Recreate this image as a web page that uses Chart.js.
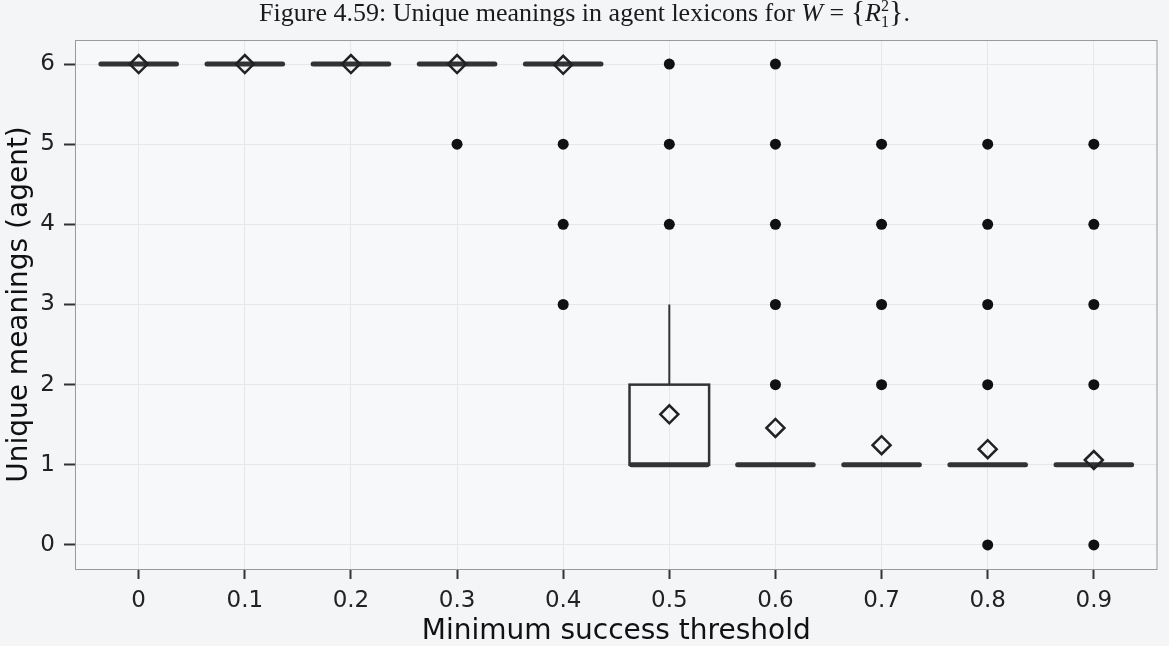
<!DOCTYPE html>
<html>
<head>
<meta charset="utf-8">
<script src="https://cdn.jsdelivr.net/npm/chart.js@4.4.1/dist/chart.umd.min.js"></script>
<style>
    html, body { margin: 0; padding: 0; background: #f4f5f7; }
    #wrap { position: relative; width: 1169px; height: 646px; }
    #fig-title {
        position: absolute; left: 0; top: -4px; width: 1169px; text-align: center;
        font-family: "Liberation Serif", "DejaVu Serif", serif; font-size: 26px; line-height: 30px; color: #1a1a1a;
    }
    #fig-title .br { font-size: 30px; }
    #fig-title sub, #fig-title sup { font-size: 16px; line-height: 0; }
    canvas { position: absolute; left: 0; top: 0; }
</style>
</head>
<body>
<div id="wrap">
    <canvas id="boxChart" width="1169" height="646"></canvas>
    <div id="fig-title">Figure 4.59: Unique meanings in agent lexicons for <i>W</i> = <span class="br">{</span><i>R</i><sup>2</sup><sub style="margin-left:-8px">1</sub><span class="br">}</span>.</div>
</div>
<script>
// categories and box statistics
const categories = ['0', '0.1', '0.2', '0.3', '0.4', '0.5', '0.6', '0.7', '0.8', '0.9'];
const lowerWhisker = [6, 6, 6, 6, 6, 1, 1, 1, 1, 1];
const lowerHinge = [6, 6, 6, 6, 6, 1, 1, 1, 1, 1];
const medians = [6, 6, 6, 6, 6, 1, 1, 1, 1, 1];
const upperHinge = [6, 6, 6, 6, 6, 2, 1, 1, 1, 1];
const upperWhisker = [6, 6, 6, 6, 6, 3, 1, 1, 1, 1];
const means = [6, 6, 6, 6, 5.99, 1.63, 1.46, 1.245, 1.195, 1.06];
const outliers = [[], [], [], [5], [3, 4, 5], [4, 5, 6], [2, 3, 4, 5, 6], [2, 3, 4, 5], [0, 2, 3, 4, 5], [0, 2, 3, 4, 5]];
const yTicks = [0, 1, 2, 3, 4, 5, 6];

const BOX_WIDTH = 0.75;
const FONT = '"DejaVu Sans", sans-serif';

const outlierPoints = [];
outliers.forEach((vals, i) => vals.forEach(v => outlierPoints.push({ x: i, y: v })));
const meanPoints = means.map((m, i) => ({ x: i, y: m }));

// draws panel background, boxes/whiskers/medians and panel border
const boxPlugin = {
    id: 'boxes',
    beforeDraw(chart) {
        const { ctx, chartArea: a } = chart;
        ctx.save();
        ctx.fillStyle = '#f7f8fa';
        ctx.fillRect(a.left, a.top, a.right - a.left, a.bottom - a.top);
        ctx.restore();
    },
    beforeDatasetsDraw(chart) {
        const { ctx, scales: { x, y } } = chart;
        ctx.save();
        ctx.strokeStyle = '#333';
        categories.forEach((c, i) => {
            const x0 = x.getPixelForValue(i - BOX_WIDTH / 2);
            const x1 = x.getPixelForValue(i + BOX_WIDTH / 2);
            const xc = x.getPixelForValue(i);
            // whiskers
            ctx.lineWidth = 2;
            ctx.beginPath();
            if (upperWhisker[i] > upperHinge[i]) {
                ctx.moveTo(xc, y.getPixelForValue(upperHinge[i]));
                ctx.lineTo(xc, y.getPixelForValue(upperWhisker[i]));
            }
            if (lowerWhisker[i] < lowerHinge[i]) {
                ctx.moveTo(xc, y.getPixelForValue(lowerHinge[i]));
                ctx.lineTo(xc, y.getPixelForValue(lowerWhisker[i]));
            }
            ctx.stroke();
            // box
            if (upperHinge[i] > lowerHinge[i]) {
                const yt = y.getPixelForValue(upperHinge[i]);
                const yb = y.getPixelForValue(lowerHinge[i]);
                ctx.lineWidth = 2.5;
                ctx.strokeRect(x0, yt, x1 - x0, yb - yt);
            }
            // median
            ctx.lineWidth = 5;
            ctx.lineCap = 'round';
            ctx.beginPath();
            const ym = y.getPixelForValue(medians[i]);
            ctx.moveTo(x0 + 2, ym);
            ctx.lineTo(x1 - 2, ym);
            ctx.stroke();
            ctx.lineCap = 'butt';
        });
        ctx.restore();
    },
    afterDraw(chart) {
        const { ctx, chartArea: a } = chart;
        ctx.save();
        ctx.strokeStyle = '#9a9a9a';
        ctx.lineWidth = 1;
        ctx.strokeRect(a.left + 0.5, a.top + 0.5, a.right - a.left - 1, a.bottom - a.top);
        ctx.restore();
    }
};

const ctx = document.getElementById('boxChart').getContext('2d');
const boxChart = new Chart(ctx, {
    type: 'scatter',
    data: {
        datasets: [{
            label: 'mean',
            data: meanPoints,
            pointStyle: 'rectRot',
            pointRadius: 9,
            pointBorderWidth: 2.5,
            pointBorderColor: '#222',
            pointBackgroundColor: 'rgba(0,0,0,0)'
        }, {
            label: 'outliers',
            data: outlierPoints,
            pointStyle: 'circle',
            pointRadius: 5.5,
            pointBorderWidth: 0,
            pointBackgroundColor: '#111'
        }]
    },
    options: {
        responsive: false,
        animation: false,
        layout: {
            padding: { top: 40, right: 7, left: 0, bottom: 0 }
        },
        plugins: {
            legend: { display: false },
            tooltip: { enabled: false }
        },
        scales: {
            x: {
                type: 'linear',
                min: -0.6,
                max: 9.6,
                afterBuildTicks: function (scale) {
                    scale.ticks = categories.map((c, i) => ({ value: i }));
                },
                afterFit: function (scale) {
                    scale.height = 77;
                },
                ticks: {
                    callback: function (value) {
                        return categories[value];
                    },
                    font: { family: FONT, size: 23 },
                    color: '#222',
                    padding: 8,
                    maxRotation: 0
                },
                grid: {
                    color: '#e6e7ea',
                    tickColor: '#333',
                    tickWidth: 2,
                    tickLength: 10
                },
                border: { display: false },
                title: {
                    display: true,
                    text: 'Minimum success threshold',
                    font: { family: FONT, size: 28, lineHeight: 1 },
                    color: '#111',
                    padding: { top: 0, bottom: 0 }
                }
            },
            y: {
                min: -0.3,
                max: 6.3,
                afterBuildTicks: function (scale) {
                    scale.ticks = yTicks.map(v => ({ value: v }));
                },
                afterFit: function (scale) {
                    scale.width = 75;
                },
                ticks: {
                    font: { family: FONT, size: 23 },
                    color: '#222',
                    padding: 9
                },
                grid: {
                    color: '#e6e7ea',
                    tickColor: '#333',
                    tickWidth: 2,
                    tickLength: 11
                },
                border: { display: false },
                title: {
                    display: true,
                    text: 'Unique meanings (agent)',
                    font: { family: FONT, size: 28, lineHeight: 1 },
                    color: '#111',
                    padding: { top: 6, bottom: 0 }
                }
            }
        }
    },
    plugins: [boxPlugin]
});
</script>
</body>
</html>
